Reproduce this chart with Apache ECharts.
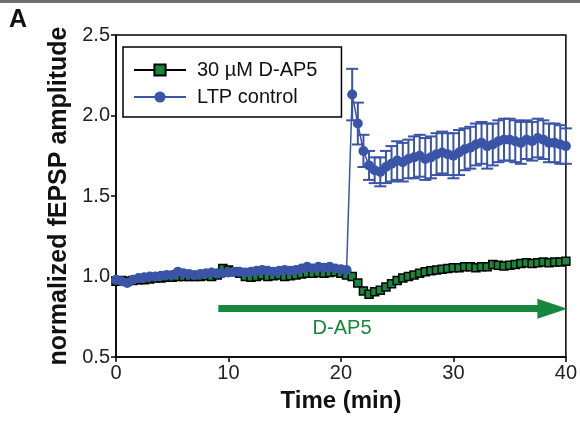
<!DOCTYPE html>
<html><head><meta charset="utf-8">
<script src="https://cdn.jsdelivr.net/npm/echarts@6/dist/echarts.min.js"></script>
<style>html,body{margin:0;padding:0;background:#fff}#c{width:580px;height:426px}</style>
</head><body><div id="c"></div>
<script>
// ---- data ----
const greenTime = [0,0.5,1,1.5,2,2.5,3,3.5,4,4.5,5,5.5,6,6.5,7,7.5,8,8.5,9,9.5,10,10.5,11,11.5,12,12.5,13,13.5,14,14.5,15,15.5,16,16.5,17,17.5,18,18.5,19,19.5,20,20.5,21,21.5,22,22.5,23,23.5,24,24.5,25,25.5,26,26.5,27,27.5,28,28.5,29,29.5,30,30.5,31,31.5,32,32.5,33,33.5,34,34.5,35,35.5,36,36.5,37,37.5,38,38.5,39,39.5,40];
const greenVal = [0.97,0.975,0.97,0.975,0.98,0.98,0.985,0.99,0.99,0.995,0.995,1.0,1.0,1.0,1.0,1.0,1.005,1.0,1.01,1.05,1.04,1.03,1.02,1.0,0.995,1.0,1.01,1.0,1.005,1.01,1.0,1.005,1.01,1.015,1.02,1.02,1.025,1.02,1.025,1.03,1.02,1.01,1.0,0.96,0.91,0.89,0.905,0.915,0.935,0.955,0.975,0.99,1.0,1.01,1.02,1.03,1.035,1.04,1.045,1.05,1.055,1.055,1.06,1.06,1.055,1.06,1.06,1.075,1.07,1.065,1.07,1.075,1.08,1.085,1.08,1.085,1.09,1.085,1.09,1.09,1.095];
const blueTime = [0,0.5,1,1.5,2,2.5,3,3.5,4,4.5,5,5.5,6,6.5,7,7.5,8,8.5,9,9.5,10,10.5,11,11.5,12,12.5,13,13.5,14,14.5,15,15.5,16,16.5,17,17.5,18,18.5,19,19.5,20,20.5,21,21.5,22,22.5,23,23.5,24,24.5,25,25.5,26,26.5,27,27.5,28,28.5,29,29.5,30,30.5,31,31.5,32,32.5,33,33.5,34,34.5,35,35.5,36,36.5,37,37.5,38,38.5,39,39.5,40];
const blueVal = [0.98,0.97,0.96,0.98,0.99,0.995,1.0,1.0,1.005,1.01,1.01,1.03,1.02,1.015,1.01,1.015,1.02,1.025,1.02,1.02,1.025,1.03,1.03,1.025,1.03,1.035,1.04,1.035,1.03,1.035,1.04,1.035,1.04,1.05,1.06,1.05,1.06,1.055,1.06,1.05,1.045,1.04,
  2.13,1.95,1.78,1.69,1.66,1.65,1.68,1.70,1.72,1.71,1.73,1.74,1.75,1.73,1.74,1.76,1.77,1.76,1.75,1.77,1.79,1.80,1.82,1.83,1.81,1.82,1.84,1.85,1.85,1.84,1.83,1.85,1.84,1.86,1.85,1.83,1.83,1.82,1.81];
const blueErr = [null,null,null,null,null,null,null,null,null,null,null,null,null,null,null,null,null,null,null,null,null,null,null,null,null,null,null,null,null,null,null,null,null,null,null,null,null,null,null,null,null,null,
  0.16,0.13,0.10,0.09,0.08,0.09,0.10,0.11,0.12,0.12,0.12,0.13,0.13,0.13,0.13,0.13,0.13,0.13,0.14,0.14,0.13,0.13,0.13,0.13,0.14,0.13,0.13,0.13,0.13,0.13,0.13,0.12,0.12,0.12,0.12,0.12,0.12,0.12,0.11];
const xTicks = [0, 40, 10];      // min, max, interval
const yTicks = [0.5, 2.5, 0.5];  // min, max, interval
const drugStart = 9.1, drugEnd = 38.8, drugLevel = 0.8;
const labelPos = [20.1, 0.68];

const GREEN = '#17873d', BLUE = '#3a54a7', FONT = 'Liberation Sans, Arial, sans-serif';

const chart = echarts.init(document.getElementById('c'), null, {renderer: 'canvas'});
const errData = blueTime.map((t, i) => [t, blueVal[i], blueErr[i]]).filter(d => d[2] != null);

chart.setOption({
  animation: false,
  backgroundColor: '#fff',
  textStyle: {fontFamily: FONT},
  graphic: [
    {type: 'rect', left: 0, top: 0, shape: {width: 580, height: 3}, style: {fill: '#6e6e6e'}},
    {type: 'text', left: 9, top: 8, style: {text: 'A', font: 'bold 25px ' + FONT, fill: '#111'}}
  ],
  grid: {left: 116, right: 14, top: 35, bottom: 69, show: true, borderColor: '#000', borderWidth: 1.5, backgroundColor: 'transparent'},
  legend: {
    orient: 'vertical', left: 123, top: 47,
    data: ['30 µM D-AP5', 'LTP control'],
    backgroundColor: '#fff', borderColor: '#000', borderWidth: 1.5, borderRadius: 0,
    padding: [13, 24, 10, 10], itemGap: 7, itemWidth: 52, itemHeight: 14,
    textStyle: {fontFamily: FONT, fontSize: 20, color: '#111', padding: [0, 0, 0, 6]}
  },
  xAxis: {
    type: 'value', min: xTicks[0], max: xTicks[1], interval: xTicks[2],
    name: 'Time (min)', nameLocation: 'middle', nameGap: 32,
    nameTextStyle: {fontFamily: FONT, fontSize: 24, fontWeight: 'bold', color: '#111'},
    axisLine: {lineStyle: {color: '#000', width: 1.5}},
    axisTick: {show: true, length: 5, lineStyle: {color: '#000', width: 1.5}},
    axisLabel: {fontFamily: FONT, fontSize: 20, color: '#222', margin: 6},
    splitLine: {show: false}
  },
  yAxis: {
    type: 'value', min: yTicks[0], max: yTicks[1], interval: yTicks[2],
    name: 'normalized fEPSP amplitude', nameLocation: 'middle', nameGap: 44,
    nameTextStyle: {fontFamily: FONT, fontSize: 25, fontWeight: 'bold', color: '#111'},
    axisLine: {show: true, lineStyle: {color: '#000', width: 1.5}},
    axisTick: {show: true, length: 5, lineStyle: {color: '#000', width: 1.5}},
    axisLabel: {fontFamily: FONT, fontSize: 20, color: '#222', margin: 6, formatter: v => v.toFixed(1)},
    splitLine: {show: false}
  },
  series: [
    {
      name: '30 µM D-AP5', type: 'line', z: 2,
      data: greenTime.map((t, i) => [t, greenVal[i]]),
      symbol: 'rect', symbolSize: 8, showAllSymbol: true,
      lineStyle: {color: '#000', width: 1.5},
      itemStyle: {color: GREEN, borderColor: '#000', borderWidth: 1.5},
      markLine: {
        silent: true, symbol: ['none', 'triangle'], symbolSize: [20, 30],
        lineStyle: {color: GREEN, width: 7, type: 'solid'},
        label: {show: false},
        data: [[{coord: [drugStart, drugLevel]}, {coord: [drugEnd, drugLevel]}]]
      },
      markPoint: {
        silent: true, symbol: 'circle', symbolSize: 0,
        label: {show: true, formatter: 'D-AP5', color: GREEN, fontFamily: FONT, fontSize: 20, position: 'inside'},
        data: [{coord: labelPos}]
      }
    },
    {
      name: 'LTP control', type: 'line', z: 4,
      data: blueTime.map((t, i) => [t, blueVal[i]]),
      symbol: 'circle', symbolSize: 10, showAllSymbol: true,
      lineStyle: {color: BLUE, width: 1.5},
      itemStyle: {color: BLUE, borderColor: BLUE, borderWidth: 0}
    },
    {
      name: 'LTP error', type: 'custom', z: 3,
      data: errData,
      renderItem: function (params, api) {
        const x = api.value(0), y = api.value(1), e = api.value(2);
        const top = api.coord([x, y + e]), bot = api.coord([x, y - e]);
        const hw = 6, st = {stroke: BLUE, lineWidth: 2};
        return {type: 'group', children: [
          {type: 'line', shape: {x1: top[0], y1: top[1], x2: bot[0], y2: bot[1]}, style: st},
          {type: 'line', shape: {x1: top[0] - hw, y1: top[1], x2: top[0] + hw, y2: top[1]}, style: st},
          {type: 'line', shape: {x1: bot[0] - hw, y1: bot[1], x2: bot[0] + hw, y2: bot[1]}, style: st}
        ]};
      }
    }
  ]
});
</script></body></html>
